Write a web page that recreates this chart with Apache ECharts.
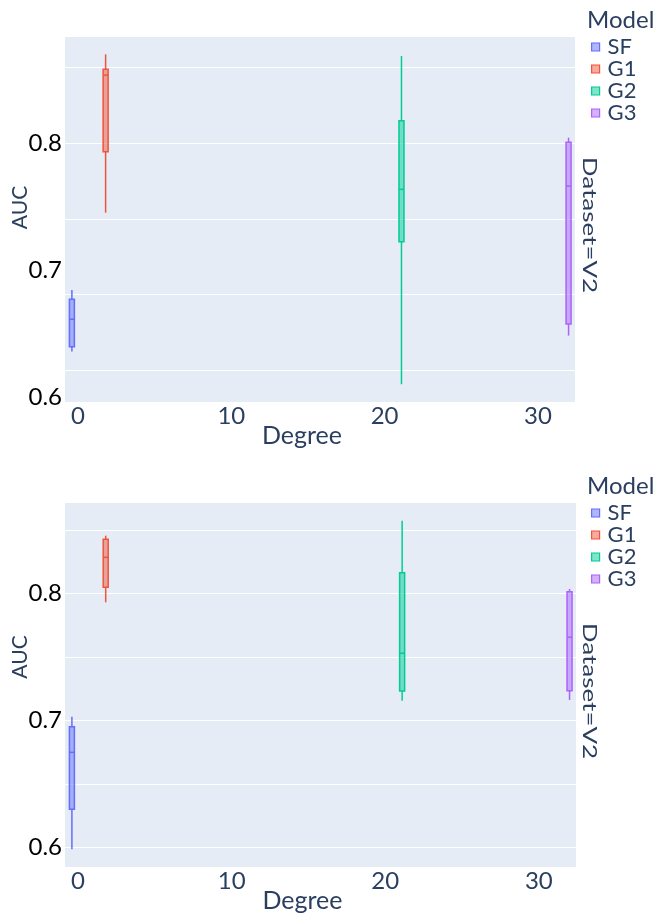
<!DOCTYPE html>
<html><head><meta charset="utf-8">
<script src="https://cdn.jsdelivr.net/npm/echarts@6/dist/echarts.min.js"></script>
<style>html,body{margin:0;padding:0;background:#fff}#c{width:658px;height:918px}</style>
</head><body><div id="c"></div>
<script>
const models = ['SF', 'G1', 'G2', 'G3'];
const colors = ['#636efa', '#EF553B', '#00cc96', '#ab63fa'];
const degree = [-0.4, 1.8, 21.1, 32.0];
// each row: [lower whisker, q1, median, q3, upper whisker]
const topStats = [
  [0.6357, 0.6396, 0.6612, 0.6769, 0.6843],
  [0.7451, 0.7931, 0.8535, 0.8580, 0.8698],
  [0.6100, 0.7223, 0.7635, 0.8176, 0.8685],
  [0.6483, 0.6575, 0.7661, 0.8006, 0.8042]
];
const bottomStats = [
  [0.5984, 0.6299, 0.6748, 0.6950, 0.7028],
  [0.7929, 0.8047, 0.8283, 0.8425, 0.8454],
  [0.7154, 0.7231, 0.7528, 0.8162, 0.8572],
  [0.7160, 0.7233, 0.7654, 0.8013, 0.8034]
];
const xTicks = [0, 10, 20, 30];
const yTickLabels = [0.6, 0.7, 0.8];
const topGridLines = [0.6213, 0.6811, 0.7402, 0.8, 0.8598];
const bottomGridLines = [0.6, 0.65, 0.7, 0.75, 0.8, 0.85];

const FONT = 'Lato, "Open Sans", sans-serif';
const INK = '#2a3f5f';

function rgba(hex, a) {
  const n = parseInt(hex.slice(1), 16);
  return 'rgba(' + ((n >> 16) & 255) + ',' + ((n >> 8) & 255) + ',' + (n & 255) + ',' + a + ')';
}

function renderBox(params, api) {
  const x = api.value(0);
  const lo = api.coord([x, api.value(1)]);
  const q1 = api.coord([x, api.value(2)]);
  const md = api.coord([x, api.value(3)]);
  const q3 = api.coord([x, api.value(4)]);
  const hi = api.coord([x, api.value(5)]);
  const w = 5, cx = lo[0];
  const color = colors[params.seriesIndex % 4];
  const st = { stroke: color, lineWidth: 1.5 };
  return {
    type: 'group', children: [
      { type: 'line', shape: { x1: cx, y1: hi[1], x2: cx, y2: q3[1] }, style: st },
      { type: 'line', shape: { x1: cx, y1: q1[1], x2: cx, y2: lo[1] }, style: st },
      { type: 'rect', shape: { x: cx - w / 2, y: q3[1], width: w, height: q1[1] - q3[1] },
        style: { fill: rgba(color, 0.5), stroke: color, lineWidth: 1.5 } },
      { type: 'line', shape: { x1: cx - w / 2, y1: md[1], x2: cx + w / 2, y2: md[1] }, style: st }
    ]
  };
}

const grids = [
  { left: 65, top: 37, width: 510, height: 365 },
  { left: 65, top: 503, width: 511, height: 364 }
];
const yRanges = [[0.596, 0.8835], [0.5845, 0.8711]];
const gridLineSets = [topGridLines, bottomGridLines];
const statSets = [topStats, bottomStats];
const aucShift = [24, 56];
const OFF = 466;

const option = {
  animation: false,
  backgroundColor: '#fff',
  textStyle: { fontFamily: FONT },
  grid: grids.map(g => Object.assign({ show: true, backgroundColor: '#e5ecf6', borderWidth: 0,
    containLabel: false, outerBoundsMode: 'none' }, g)),
  title: [0, 1].map(k => ({
    text: 'Model', left: 587, top: 8 + k * OFF, padding: 0,
    textStyle: { fontFamily: FONT, fontSize: 24, lineHeight: 24, fontWeight: 'normal', color: INK }
  })),
  legend: [0, 1].map(k => ({
    orient: 'vertical', left: 591, top: 36 + k * OFF, padding: 0,
    itemWidth: 8, itemHeight: 8, itemGap: 0, selectedMode: false,
    textStyle: { fontFamily: FONT, fontSize: 22, color: INK, lineHeight: 22, padding: [0, 0, 0, 3] },
    data: models.map((m, i) => ({
      name: m, icon: 'rect',
      itemStyle: { color: rgba(colors[i], 0.5), borderColor: colors[i], borderWidth: 1.2 }
    }))
  })),
  xAxis: [0, 1].map(k => ({
    type: 'value', gridIndex: k, min: -0.85, max: 32.42,
    name: 'Degree', nameLocation: 'middle', nameGap: 21, nameMoveOverlap: false,
    nameTextStyle: { fontFamily: FONT, fontSize: 25, color: INK, padding: [0, 36, 0, 0] },
    axisLine: { show: false }, axisTick: { show: false, customValues: xTicks },
    splitLine: { show: false },
    axisLabel: { customValues: xTicks, fontFamily: FONT, fontSize: 24, color: INK, margin: 2 }
  })),
  yAxis: [0, 1].map(k => ({
    type: 'value', gridIndex: k, min: yRanges[k][0], max: yRanges[k][1],
    name: 'AUC', nameLocation: 'middle', nameGap: 34, nameMoveOverlap: false,
    nameTextStyle: { fontFamily: FONT, fontSize: 21, color: INK, padding: [0, 0, 0, aucShift[k]] },
    axisLine: { show: false },
    axisTick: { show: false, customValues: gridLineSets[k] },
    splitLine: { show: true, lineStyle: { color: '#ffffff', width: 1 } },
    axisLabel: { customValues: yTickLabels, formatter: v => v.toFixed(1),
      fontFamily: FONT, fontSize: 24, color: '#000', margin: 3 }
  })),
  graphic: [0, 1].map(k => ({
    type: 'text', x: 589, y: 225 + k * OFF, rotation: -Math.PI / 2, scaleX: 1.3,
    style: { text: 'Dataset=V2', fontFamily: FONT, fontSize: 20, fill: INK,
      align: 'center', verticalAlign: 'middle' }
  })),
  series: []
};

[0, 1].forEach(k => {
  models.forEach((m, i) => {
    option.series.push({
      type: 'custom', name: m, xAxisIndex: k, yAxisIndex: k,
      itemStyle: { color: colors[i] },
      renderItem: renderBox, clip: false,
      encode: { x: 0, y: [1, 2, 3, 4, 5] },
      data: [[degree[i]].concat(statSets[k][i])]
    });
  });
});

const chart = echarts.init(document.getElementById('c'), null, { renderer: 'canvas' });
chart.setOption(option);
</script>
</body></html>
